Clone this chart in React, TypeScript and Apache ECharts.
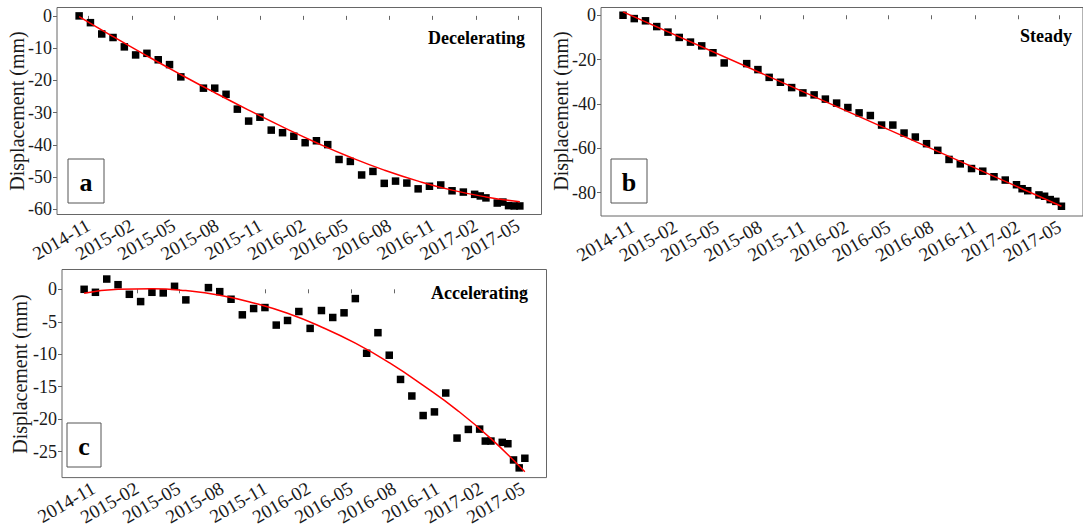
import React, { useEffect, useRef } from "react";
import * as echarts from "echarts";

// Acquisition dates (shared by all three panels)
const dates = [
  "2014-10-12", "2014-11-05", "2014-11-29", "2014-12-23", "2015-01-16", "2015-02-09", "2015-03-05", "2015-03-29", "2015-04-22", "2015-05-16",
  "2015-07-03", "2015-07-27", "2015-08-20", "2015-09-13", "2015-10-07", "2015-10-31", "2015-11-24", "2015-12-18", "2016-01-11", "2016-02-04",
  "2016-02-28", "2016-03-23", "2016-04-16", "2016-05-10", "2016-06-03", "2016-06-27", "2016-07-21", "2016-08-14", "2016-09-07", "2016-10-01",
  "2016-10-25", "2016-11-18", "2016-12-12", "2017-01-05", "2017-01-29", "2017-02-10", "2017-02-22", "2017-03-18", "2017-03-30", "2017-04-11",
  "2017-04-23", "2017-05-05",
];

// Panel a: decelerating
const valuesA = [
  0, -2.1, -5.6, -6.7, -9.6, -12.1, -11.6, -13.6, -15.1, -18.9,
  -22.4, -22.4, -24.3, -28.9, -32.6, -31.4, -35.4, -36.2, -37.3, -39.3,
  -38.7, -39.9, -44.5, -45.1, -49.3, -48.2, -51.9, -51.2, -51.8, -53.6,
  -52.8, -52.4, -54.2, -54.6, -55.3, -55.8, -56.4, -58.0, -57.7, -58.8,
  -58.9, -58.9,
];

// Panel b: steady
const valuesB = [
  0, -1.5, -2.5, -5.1, -7.6, -10.0, -12.1, -13.8, -16.9, -21.5,
  -21.8, -24.5, -28.0, -30.2, -32.6, -35.0, -35.9, -37.8, -39.6, -41.6,
  -44.0, -45.2, -49.5, -49.5, -53.1, -54.9, -57.9, -60.9, -65.0, -67.0,
  -69.1, -70.3, -72.8, -74.3, -76.4, -78.2, -79.1, -81.0, -81.6, -83.1,
  -83.9, -86.1,
];

// Panel c: accelerating
const valuesC = [
  0, -0.46, 1.58, 0.71, -0.77, -1.89, -0.46, -0.56, 0.46, -1.63,
  0.26, -0.36, -1.53, -3.93, -2.96, -2.81, -5.51, -4.8, -3.42, -6.02,
  -3.27, -4.34, -3.62, -1.43, -9.85, -6.68, -10.15, -13.88, -16.43, -19.44,
  -18.88, -15.97, -22.91, -21.58, -21.53, -23.37, -23.37, -23.57, -23.78, -26.28,
  -27.5, -26.02,
];

// Fitted curves
const fitDates = [
  "2014-10-12", "2014-12-23", "2015-03-05", "2015-05-16", "2015-07-27", "2015-10-07", "2015-12-18",
  "2016-02-28", "2016-05-10", "2016-07-21", "2016-10-01", "2016-12-12", "2017-02-22", "2017-05-05",
];
const fitA = [-0.2, -6.4, -12.4, -18.2, -23.8, -29.2, -34.4, -39.3, -43.8, -47.8, -51.2, -54.0, -56.1, -57.6];
const fitDatesB = ["2014-10-12", "2017-05-05"];
const fitB = [1.5, -86.1];
const fitC = [-0.6, 0.0, 0.1, -0.2, -0.9, -2.1, -3.7, -5.8, -8.3, -11.3, -14.8, -18.6, -23.0, -28.1];

// Tick labels
const xTickLabels = [
  "2014-11", "2015-02", "2015-05", "2015-08", "2015-11", "2016-02",
  "2016-05", "2016-08", "2016-11", "2017-02", "2017-05",
];
const yTicksA = [0, -10, -20, -30, -40, -50, -60];
const yTicksB = [0, -20, -40, -60, -80];
const yTicksC = [0, -5, -10, -15, -20, -25];

const panelNames = ["Decelerating", "Steady", "Accelerating"];
const panelLetters = ["a", "b", "c"];
const yTitle = "Displacement (mm)";

const FONT = "Liberation Serif, Times New Roman, serif";
const BORDER = "#666666";
const TEXT = "#1a1a1a";

const ts = (d: string) => Date.parse(d);

export default function App() {
  const ref = useRef<HTMLDivElement>(null);

  useEffect(() => {
    if (!ref.current) return;
    const chart = echarts.init(ref.current, undefined, { renderer: "svg" });

    const xMin = ts("2014-08-26");
    const xMax = ts("2017-06-20");
    const xTickVals = xTickLabels.map((l) => ts(l + "-01"));
    const fmt = (v: number) => {
      const d = new Date(v);
      return d.getUTCFullYear() + "-" + String(d.getUTCMonth() + 1).padStart(2, "0");
    };

    const grids = [
      { left: 57, top: 7.5, width: 484.5, height: 207 },
      { left: 601, top: 7.5, width: 487, height: 208.5 },
      { left: 62, top: 269.5, width: 484.5, height: 209 },
    ].map((g) => ({ ...g, show: true, borderColor: BORDER, borderWidth: 1, backgroundColor: "transparent" }));

    const yRanges = [
      { min: -61.55, max: 2.6, ticks: yTicksA },
      { min: -90.5, max: 3.5, ticks: yTicksB },
      { min: -29.0, max: 3.05, ticks: yTicksC },
    ];

    const xAxis = [0, 1, 2].map((i) => ({
      type: "value",
      gridIndex: i,
      min: xMin,
      max: xMax,
      axisLine: { show: false },
      splitLine: { show: false },
      axisTick: { show: true, length: 4, customValues: xTickVals, lineStyle: { color: BORDER } },
      axisLabel: {
        customValues: xTickVals,
        rotate: 30,
        formatter: (v: number) => fmt(v),
        fontFamily: FONT,
        fontSize: 19,
        color: TEXT,
        margin: 9,
        hideOverlap: false,
        showMinLabel: true,
        showMaxLabel: true,
      },
    }));

    const yAxis = yRanges.map((r, i) => ({
      type: "value",
      gridIndex: i,
      min: r.min,
      max: r.max,
      axisLine: { show: false },
      splitLine: { show: false },
      axisTick: { show: true, length: 4, customValues: r.ticks, lineStyle: { color: BORDER } },
      axisLabel: {
        customValues: r.ticks,
        formatter: (v: number) => String(v),
        fontFamily: FONT,
        fontSize: 18,
        color: TEXT,
        margin: 5,
      },
    }));

    const pts = [valuesA, valuesB, valuesC];
    const fits = [
      { d: fitDates, v: fitA },
      { d: fitDatesB, v: fitB },
      { d: fitDates, v: fitC },
    ];

    const series: any[] = [];
    pts.forEach((vals, i) => {
      series.push({
        type: "scatter",
        xAxisIndex: i,
        yAxisIndex: i,
        symbol: "rect",
        symbolSize: 7.5,
        itemStyle: { color: "#000000", opacity: 1 },
        data: dates.map((d, k) => [ts(d), vals[k]]),
        z: 2,
      });
      series.push({
        type: "line",
        xAxisIndex: i,
        yAxisIndex: i,
        smooth: true,
        showSymbol: false,
        symbol: "none",
        lineStyle: { color: "#ff0000", width: 1.5 },
        data: fits[i].d.map((d, k) => [ts(d), fits[i].v[k]]),
        z: 3,
      });
    });

    const boxes = [
      { x: 68, y: 159, w: 36, h: 44 },
      { x: 611, y: 159, w: 36, h: 44 },
      { x: 67, y: 423, w: 34, h: 44 },
    ];
    const nameAnchors = [
      { x: 525, y: 38 },
      { x: 1072, y: 36 },
      { x: 528, y: 293 },
    ];
    const titleAnchors = [
      { x: 17, y: 111 },
      { x: 561, y: 111 },
      { x: 20, y: 374 },
    ];

    const graphic: any[] = [];
    boxes.forEach((b, i) => {
      graphic.push({
        type: "rect",
        shape: { x: b.x, y: b.y, width: b.w, height: b.h },
        style: { fill: "#ffffff", stroke: "#555555", lineWidth: 1 },
        z: 10,
      });
      graphic.push({
        type: "text",
        x: b.x + b.w / 2,
        y: b.y + b.h / 2 + 1,
        style: {
          text: panelLetters[i],
          font: `bold 26px ${FONT}`,
          fill: "#000000",
          align: "center",
          verticalAlign: "middle",
        },
        z: 11,
      });
    });
    nameAnchors.forEach((a, i) => {
      graphic.push({
        type: "text",
        x: a.x,
        y: a.y,
        style: {
          text: panelNames[i],
          font: `bold 18px ${FONT}`,
          fill: "#000000",
          align: "right",
          verticalAlign: "middle",
        },
        z: 11,
      });
    });
    titleAnchors.forEach((a) => {
      graphic.push({
        type: "text",
        x: a.x,
        y: a.y,
        rotation: Math.PI / 2,
        style: {
          text: yTitle,
          font: `20px ${FONT}`,
          fill: TEXT,
          align: "center",
          verticalAlign: "middle",
        },
        z: 11,
      });
    });

    chart.setOption({
      animation: false,
      backgroundColor: "#ffffff",
      grid: grids,
      xAxis,
      yAxis,
      series,
      graphic,
    });

    return () => chart.dispose();
  }, []);

  return (
    <div
      ref={ref}
      style={{ position: "fixed", left: 0, top: 0, width: 1083, height: 528, background: "#fff" }}
    />
  );
}
